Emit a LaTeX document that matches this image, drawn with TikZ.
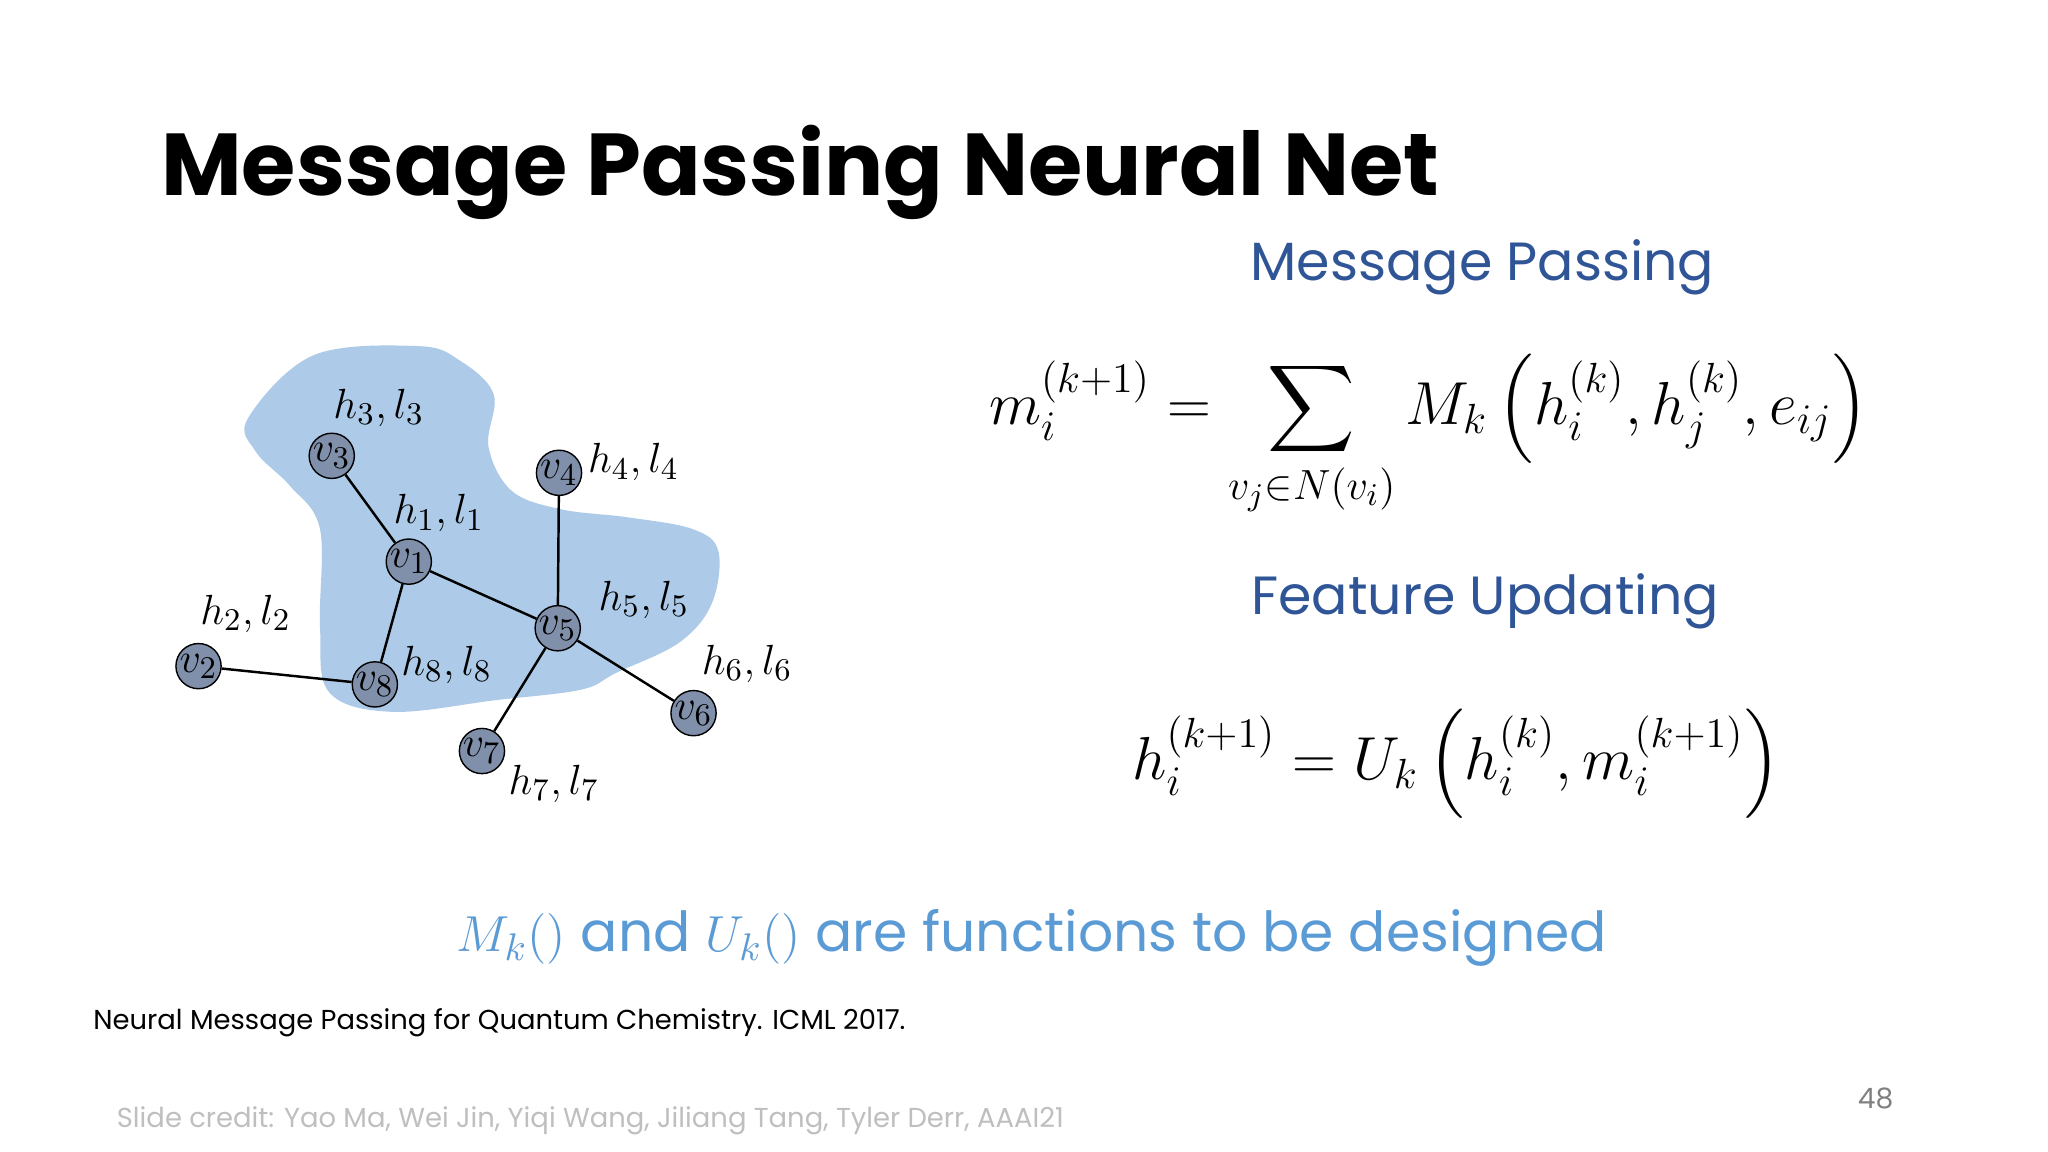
\documentclass[tikz,border=0pt]{standalone}
\usepackage{fontspec}
\usepackage{amsmath}
\setmainfont{Poppins}
\definecolor{blobc}{HTML}{ADCBE8}
\definecolor{nodec}{HTML}{8090AA}
\definecolor{darkblue}{HTML}{2F5597}
\definecolor{lightblue}{HTML}{5B9BD5}
\definecolor{creditgray}{HTML}{BFBFBF}
\tikzset{
  gnode/.style={circle,draw=black,fill=nodec,minimum size=0.42cm,inner sep=0pt,font=\fontsize{13}{13}\selectfont},
  glabel/.style={font=\fontsize{13}{13}\selectfont},
  gedge/.style={black,line width=0.7pt},
}
\begin{document}
\begin{tikzpicture}[x=0.013061cm,y=-0.013061cm]
\useasboundingbox[fill=white] (0,0) rectangle (1568,882);
\node[anchor=west,font=\fontsize{25}{25}\selectfont\bfseries] (title) at (114,132) {Message Passing Neural Net};
% blob
\fill[blobc] plot[smooth cycle,tension=0.6] coordinates {(190,320) (240,272) (320,265) (352,276) (378,302) (374,342) (392,376) (430,390) (480,396) (530,405) (550,422) (545,462) (520,492) (472,515) (445,528) (380,536) (300,545) (252,530) (245,480) (245,405) (222,372) (196,346)};
% nodes
\node[gnode] (v3) at (254,349) {$v_3$};
\node[gnode] (v1) at (313,430) {$v_1$};
\node[gnode] (v4) at (428,362) {$v_4$};
\node[gnode] (v5) at (427,481) {$v_5$};
\node[gnode] (v2) at (152,510) {$v_2$};
\node[gnode] (v8) at (287,524) {$v_8$};
\node[gnode] (v6) at (531,546) {$v_6$};
\node[gnode] (v7) at (369,575) {$v_7$};
\draw[gedge] (v3)--(v1) (v1)--(v8) (v1)--(v5) (v4)--(v5) (v5)--(v6) (v5)--(v7) (v2)--(v8);
% labels
\node[glabel] (l3) at (290,312) {$h_3,l_3$};
\node[glabel] (l1) at (336,393) {$h_1,l_1$};
\node[glabel] (l4) at (485,354) {$h_4,l_4$};
\node[glabel] (l2) at (188,470) {$h_2,l_2$};
\node[glabel] (l5) at (493,459) {$h_5,l_5$};
\node[glabel] (l8) at (342,509) {$h_8,l_8$};
\node[glabel] (l6) at (572,508) {$h_6,l_6$};
\node[glabel] (l7) at (424,600) {$h_7,l_7$};
% right side
\node[font=\fontsize{15.3}{15.3}\selectfont,text=darkblue] (mp) at (1135,205) {Message Passing};
\node[font=\fontsize{17.4}{17.4}\selectfont] (eq1) at (1094,334) {$\displaystyle m_i^{(k+1)} = \sum_{v_j\in N(v_i)} M_k\left(h_i^{(k)},h_j^{(k)},e_{ij}\right)$};
\node[font=\fontsize{15.3}{15.3}\selectfont,text=darkblue] (fu) at (1137,460) {Feature Updating};
\node[font=\fontsize{17.8}{17.8}\selectfont] (eq2) at (1115,585) {$\displaystyle h_i^{(k+1)} = U_k\left(h_i^{(k)},m_i^{(k+1)}\right)$};
\node[font=\fontsize{15.7}{15.7}\selectfont,text=lightblue] (bottom) at (790,718) {$M_k()$ and $U_k()$ are functions to be designed};
\node[anchor=west,font=\fontsize{7.8}{9}\selectfont] (ref) at (62,783) {Neural Message Passing for Quantum Chemistry. ICML 2017.};
\node[anchor=west,font=\fontsize{7.8}{9}\selectfont,text=creditgray] (credit) at (80,858) {Slide credit: Yao Ma, Wei Jin, Yiqi Wang, Jiliang Tang, Tyler Derr, AAAI21};
\node[font=\fontsize{8}{9}\selectfont,text=gray] (pg) at (1436,841) {48};
\end{tikzpicture}
\end{document}
